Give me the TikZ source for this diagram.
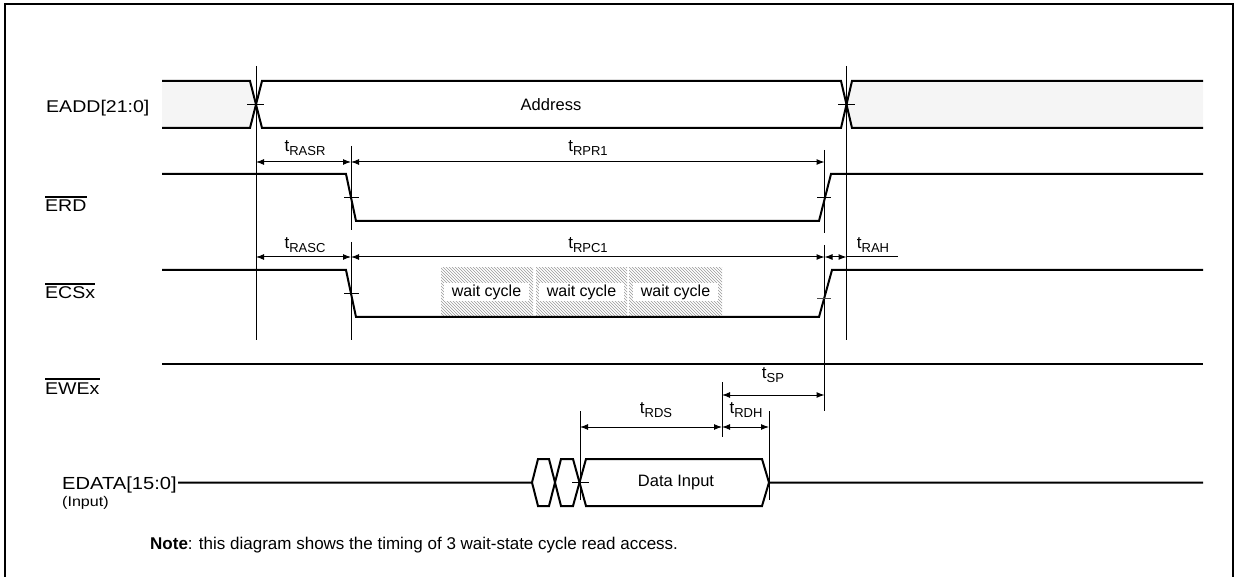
\documentclass[tikz,border=0pt]{standalone}
\usepackage{fontspec}
\setmainfont{Liberation Sans}
\newfontfamily\widefont[FakeStretch=1.15]{Liberation Sans}
\usetikzlibrary{arrows.meta,patterns}
\newcommand{\tsub}[1]{t\raisebox{-0.28em}{\fontsize{13}{13}\selectfont #1}}
\begin{document}
\begin{tikzpicture}[x=1pt,y=-1pt,
  sig/.style={line width=2pt, line join=miter, line cap=butt},
  refl/.style={line width=1pt},
  dimarrow/.style={line width=1pt, {Latex[length=8pt,width=6pt]}-{Latex[length=8pt,width=6pt]}},
  siglabel/.style={font=\widefont\fontsize{17}{17}\selectfont, inner sep=0pt, anchor=base west},
  tlabel/.style={font=\fontsize{17}{17}\selectfont, inner sep=0pt},
  boxtext/.style={font=\fontsize{16.5}{16.5}\selectfont, inner sep=0pt},
  waitbox/.style={pattern=north west lines, pattern color=black!40},
  waitlabel/.style={fill=white, font=\fontsize{16}{16}\selectfont, inner sep=0pt, minimum width=85pt, minimum height=18pt},
  graybus/.style={fill=black!4, draw=none},
  overbar/.style={line width=1.3pt}
]
\useasboundingbox (0,0) rectangle (1237,577);
% frame (open at the bottom)
\draw[line width=2pt] (5,577) -- (5,4) -- (1233,4) -- (1233,577);

% ---------- EADD ----------
\fill[graybus] (162,81) -- (250,81) -- (256,104.5) -- (250,128) -- (162,128) -- cycle;
\fill[graybus] (852,81) -- (1203,81) -- (1203,128) -- (852,128) -- (846.5,104.5) -- cycle;
\draw[sig] (162,81) -- (250,81) -- (262,128) -- (841,128) -- (852,81) -- (1203,81);
\draw[sig] (162,128) -- (250,128) -- (262,81) -- (841,81) -- (852,128) -- (1203,128);
\node[boxtext] (addr) at (551,104.5) {Address};
\node[siglabel] (leadd) at (46,113) {EADD[21:0]};

% vertical reference lines
\coordinate (va1) at (256,66);  \coordinate (va2) at (256,340);
\coordinate (vb1) at (846.5,66); \coordinate (vb2) at (846.5,340);
\draw[refl] (va1) -- (va2);
\draw[refl] (vb1) -- (vb2);
\draw[refl] (247,104.5) -- (264,104.5);
\draw[refl] (838,104.5) -- (855,104.5);

% ---------- ERD ----------
\draw[sig] (162,174) -- (346,174) -- (356,221) -- (819,221) -- (831,174) -- (1203,174);
\node[siglabel] (lerd) at (45,212) {ERD};
\draw[overbar] ([yshift=3pt]lerd.north west) -- ([yshift=3pt]lerd.north east);
\coordinate (vc1) at (351,146); \coordinate (vc2) at (351,230);
\coordinate (vd1) at (824.5,150); \coordinate (vd2) at (824.5,233);
\draw[refl] (vc1) -- (vc2);
\draw[refl] (vd1) -- (vd2);
\draw[refl] (344,198) -- (359,198);
\draw[refl] (817,198) -- (831,198);
\coordinate (a1) at (256,162); \coordinate (a2) at (351,162); \coordinate (a3) at (824.5,162);
\draw[dimarrow] (a1) -- (a2);
\draw[dimarrow] (a2) -- (a3);
\node[tlabel] (trasr) at (305,148) {\tsub{RASR}};
\node[tlabel] (trpr) at (588,148) {\tsub{RPR1}};

% ---------- ECSx ----------
\fill[waitbox] (441,268) rectangle (533,316);
\fill[waitbox] (536,268) rectangle (627,316);
\fill[waitbox] (629,268) rectangle (722,316);
\node[waitlabel] (w1) at (486.5,292) {wait cycle};
\node[waitlabel] (w2) at (581.5,292) {wait cycle};
\node[waitlabel] (w3) at (675.5,292) {wait cycle};
\draw[sig] (162,270) -- (346,270) -- (356,317) -- (819,317) -- (832,270) -- (1203,270);
\node[siglabel] (lecs) at (45,299) {ECSx};
\draw[overbar] ([yshift=3pt]lecs.north west) -- ([yshift=3pt]lecs.north east);
\coordinate (ve1) at (351,242); \coordinate (ve2) at (351,340);
\coordinate (vf1) at (824.5,245); \coordinate (vf2) at (824.5,411);
\draw[refl] (ve1) -- (ve2);
\draw[refl] (vf1) -- (vf2);
\draw[refl] (344,293.5) -- (359,293.5);
\draw[refl, black!70] (817,299) -- (831,299);
\coordinate (b1) at (256,257); \coordinate (b2) at (351,257); \coordinate (b3) at (824.5,257);
\coordinate (b4) at (846.5,257); \coordinate (b5) at (898,257);
\draw[dimarrow] (b1) -- (b2);
\draw[dimarrow] (b2) -- (b3);
\draw[dimarrow] (b3) -- (b4);
\draw[refl] (b4) -- (b5);
\node[tlabel] (trasc) at (305,245) {\tsub{RASC}};
\node[tlabel] (trpc) at (588,245) {\tsub{RPC1}};
\node[tlabel] (trah) at (873,245) {\tsub{RAH}};

% ---------- EWEx ----------
\draw[sig] (162,364) -- (1203,364);
\node[siglabel] (lewe) at (45,394) {EWEx};
\draw[overbar] ([yshift=3pt]lewe.north west) -- ([yshift=3pt]lewe.north east);
\coordinate (vg1) at (722,382); \coordinate (vg2) at (722,437);
\draw[refl] (vg1) -- (vg2);
\coordinate (c1) at (722,395); \coordinate (c2) at (824.5,395);
\draw[dimarrow] (c1) -- (c2);
\node[tlabel] (tsp) at (773,375) {\tsub{SP}};

% ---------- EDATA ----------
\coordinate (vh1) at (580,411); \coordinate (vh2) at (580,500);
\coordinate (vi1) at (769,411); \coordinate (vi2) at (769,500);
\draw[refl] (vh1) -- (vh2);
\draw[refl] (vi1) -- (vi2);
\coordinate (d1) at (580,427); \coordinate (d2) at (722,427); \coordinate (d3) at (769,427);
\draw[dimarrow] (d1) -- (d2);
\draw[dimarrow] (d2) -- (d3);
\node[tlabel] (trds) at (656,410) {\tsub{RDS}};
\node[tlabel] (trdh) at (746,410) {\tsub{RDH}};

\draw[sig] (178,482.5) -- (532,482.5) -- (538,459) -- (549,459) -- (561,506) -- (573,506) -- (586,459) -- (762,459) -- (769,482.5) -- (1203,482.5);
\draw[sig] (532,482.5) -- (538,506) -- (549,506) -- (561,459) -- (573,459) -- (586,506) -- (762,506) -- (769,482.5);
\draw[refl] (572,482.5) -- (589,482.5);
\node[boxtext] (din) at (676,482.5) {Data Input};
\node[siglabel, font=\widefont\fontsize{17.5}{17.5}\selectfont] (ledata) at (62,489) {EDATA[15:0]};
\node[siglabel, font=\widefont\fontsize{14}{14}\selectfont] (linput) at (62,506) {(Input)};

% ---------- Note ----------
\node[anchor=base west, inner sep=0pt, font=\fontsize{17}{17}\selectfont] (note) at (150,549)
  {\textbf{Note}: this diagram shows the timing of 3 wait-state cycle read access.};
\end{tikzpicture}
\end{document}
